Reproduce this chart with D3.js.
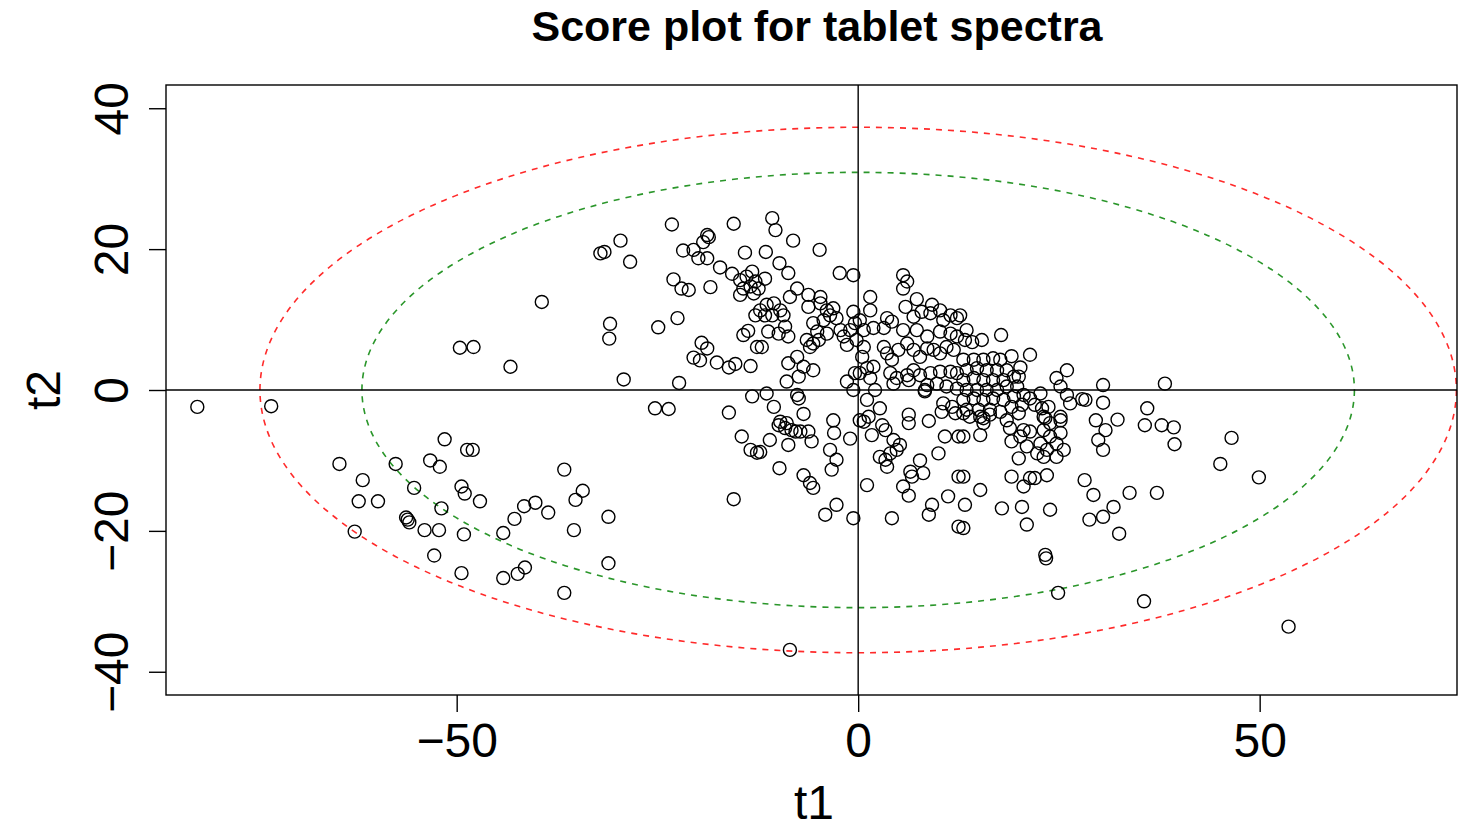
<!DOCTYPE html>
<html>
<head>
<meta charset="utf-8">
<script src="https://cdn.jsdelivr.net/npm/d3@7"></script>
<style>
  body { margin: 0; background: #fff; }
  svg { display: block; font-family: "Liberation Sans", Arial, Helvetica, sans-serif; }
</style>
</head>
<body>
<svg id="chart" width="1458" height="829"></svg>
<script>
// score values (t1, t2)
const t1Scores = [
  -82.3,-73.1,-51.5,-48.7,-48.0,-64.6,-57.6,-53.3,-52.1,-61.7,-55.3,-49.4,-49.0,-62.2,-59.8,-51.9,-56.1,-55.9,-56.3,-54.0,-52.2,-62.7,-49.1,-52.8,-49.4,
  -29.6,-32.1,-31.6,-28.4,-39.4,-30.9,-31.0,-47.9,-49.6,-43.3,-29.2,-47.1,-36.6,-34.3,-35.2,-40.2,-41.6,-38.6,-42.8,-31.1,-44.2,-35.4,-41.5,-42.4,-44.2,-31.1,-36.6,
  -23.2,-15.5,-18.8,-18.6,-19.3,-21.8,-20.5,-19.9,-18.8,-14.1,-17.2,-15.7,-14.7,-13.9,-13.2,-12.8,-14.3,-13.4,-14.7,-13.0,-12.4,-23.0,-22.0,-21.1,-18.4,-12.8,
  -24.9,-22.5,-14.3,-13.7,-12.6,-19.5,-18.8,-20.5,-19.7,-17.6,-16.1,-15.3,-13.4,-22.3,-13.2,-25.3,-23.6,-16.1,
  -14.5,-13.4,-12.6,-15.5,
  -10.7,-10.3,-8.1,-4.8,-11.5,-9.8,-8.7,-2.3,-0.6,-11.6,-7.6,-8.5,-6.2,-4.7,-11.4,-10.5,-9.7,-11.6,-10.7,-9.3,-11.2,-9.9,-8.7,-9.1,-12.2,-6.2,-4.7,-3.9,-3.1,
  -5.6,-4.3,-3.5,-2.7,-5.1,-3.9,-2.2,-6.4,-5.6,-1.8,-1.0,-0.4,-1.4,-0.2,-0.6,-6.0,-4.9,-12.0,-7.6,-8.7,-6.8,-5.6,-7.4,-8.9,-0.4,-1.4,-0.6,-11.4,-7.6,
  -7.4,-10.5,-6.8,-9.7,-9.9,-8.9,-9.1,-8.3,-7.8,-7.2,-6.2,-3.1,-3.0,-1.0,-11.0,-8.7,-5.8,-12.2,-3.5,-2.7,-3.3,-9.8,-6.8,-6.0,-5.6,-2.7,-4.1,-0.6,0.2,
  5.6,6.1,5.6,1.5,1.5,7.3,5.9,9.2,10.2,11.5,12.3,10.6,9.0,7.9,6.9,0.2,0.7,1.9,3.6,4.2,3.2,5.6,7.3,8.6,10.2,11.5,12.3,0.7,0.5,3.2,3.6,4.2,5.0,6.1,6.9,
  7.7,8.6,9.4,10.2,11.0,11.9,1.1,1.9,1.5,0.2,4.0,4.8,6.1,6.9,7.7,9.0,10.2,11.5,12.3,4.4,6.3,8.6,9.8,11.0,2.1,8.3,12.3,
  1.1,2.7,1.3,0.7,8.3,10.6,11.7,10.4,12.1,6.3,6.3,8.8,3.0,3.4,1.7,4.4,5.2,4.8,4.0,2.7,3.4,3.6,10.8,12.5,10.0,7.7,6.5,8.1,6.7,1.1,5.6,6.3,11.2,9.2,8.8,4.2,12.5,12.5,
  12.7,13.5,13.3,14.2,15.4,17.8,19.1,21.4,13.1,14.4,15.6,16.8,17.7,13.5,14.8,16.0,17.3,18.5,13.1,14.4,15.6,16.8,18.1,19.4,13.5,14.8,16.0,17.3,18.5,19.8,
  13.1,14.4,15.6,16.8,18.1,19.4,20.6,13.5,15.0,16.4,17.7,19.1,20.4,13.9,15.6,20.2,20.0,26.0,24.7,25.2,26.0,22.7,23.7,22.9,22.0,26.4,25.2,23.1,21.4,
  13.1,15.2,15.6,16.4,18.5,18.9,20.0,20.6,21.4,20.2,19.1,21.0,20.0,13.1,15.2,23.1,23.9,25.2,22.7,23.5,24.7,25.6,23.1,24.7,22.3,23.9,25.2,23.3,
  13.1,15.2,19.1,20.6,21.4,22.0,23.5,13.3,17.9,20.4,23.9,13.1,21.0,23.3,23.4,24.9,
  30.5,38.2,27.9,28.3,30.5,36.0,29.6,32.3,30.8,35.7,37.8,39.3,29.9,30.5,39.4,46.5,45.1,49.9,28.2,29.3,33.8,37.2,31.8,28.8,30.5,32.5,35.6,53.6,
  -8.5
];
const t2Scores = [
  -2.4,-2.3,-7.0,-8.5,-8.5,-10.5,-10.5,-10.0,-10.9,-12.8,-13.9,-13.7,-14.7,-15.8,-15.8,-16.8,-18.4,-18.8,-18.1,-19.9,-19.9,-20.1,-20.5,-23.5,-26.0,
  21.2,19.4,19.6,18.2,12.5,9.4,7.3,6.1,6.0,3.3,1.5,-15.8,-11.3,-14.3,-15.6,-16.0,-16.5,-17.4,-18.3,-18.0,-20.3,-19.9,-25.2,-26.1,-26.7,-24.6,-28.8,
  23.5,23.6,22.0,21.7,21.0,19.8,19.9,18.7,18.7,19.5,17.4,16.5,15.6,16.1,16.8,15.4,14.4,14.7,13.5,13.7,14.4,15.7,14.4,14.2,14.6,10.6,
  8.9,10.2,7.8,8.4,6.1,6.7,5.9,4.6,4.2,3.9,3.2,3.7,3.4,1.0,-0.9,-2.6,-2.7,-3.2,
  -6.6,-8.5,-8.9,-15.5,
  24.4,22.7,21.2,19.9,19.6,18.0,16.6,16.6,16.3,15.8,14.4,13.2,13.5,13.2,12.1,12.3,11.3,10.6,10.6,10.6,8.3,8.0,7.6,9.0,11.3,11.8,12.3,11.3,11.6,
  9.5,9.9,10.6,10.2,8.3,8.0,8.5,7.1,6.6,7.6,8.5,9.5,6.4,7.1,11.1,6.1,7.1,6.1,4.7,3.8,3.3,2.8,1.9,1.2,2.4,1.2,0.0,-0.5,-0.7,
  -1.2,-2.4,-3.4,-4.5,-5.0,-4.7,-5.4,-5.7,-5.9,-5.9,-5.9,-4.3,-6.1,-6.9,-7.1,-7.8,-7.3,-8.8,-8.5,-9.9,-11.3,-11.1,-12.1,-13.2,-13.9,-16.3,-17.7,-18.2,-4.3,
  16.3,15.4,14.4,13.2,11.3,12.9,11.8,12.1,11.3,10.6,10.2,9.9,10.9,11.1,10.4,9.9,8.5,8.8,10.2,9.7,8.8,8.5,8.5,7.6,8.3,8.0,7.6,6.1,4.7,6.1,5.2,4.3,5.7,6.6,5.7,
  4.7,5.9,5.7,5.2,6.1,5.7,3.1,3.3,1.7,2.4,2.4,1.7,2.1,2.8,2.1,2.4,2.6,2.6,2.4,0.9,1.4,0.7,0.9,0.5,0.0,0.0,0.2,
  -1.4,-2.6,-3.8,-4.5,-0.2,-1.9,-2.4,-3.1,-3.3,-3.5,-4.7,-4.4,-5.0,-5.7,-6.4,-7.1,-7.8,-8.5,-9.0,-9.5,-9.9,-10.9,-6.6,-6.6,-9.0,-10.0,-11.6,-11.8,-12.3,-13.5,-13.7,-15.0,-15.1,-16.3,-17.7,-18.2,-12.3,-19.4,
  10.6,8.5,7.1,6.8,7.1,7.8,4.8,5.0,4.3,4.3,4.3,4.5,4.3,2.8,3.1,2.8,2.8,2.8,1.4,1.7,1.4,1.4,1.4,1.9,0.0,0.0,0.0,0.0,0.5,0.5,
  -1.4,-1.2,-1.4,-1.2,-1.4,-0.9,-0.7,-2.8,-2.8,-2.8,-3.1,-2.4,-2.1,-3.8,-4.0,3.2,1.9,2.8,1.7,0.5,-0.7,-0.5,-2.4,-2.6,-2.1,-1.9,-3.8,-3.8,-1.2,
  -3.3,-3.8,-4.7,-3.5,-4.3,-5.4,-3.3,-5.7,-5.9,-6.6,-7.3,-8.0,-9.7,-6.6,-6.4,-5.7,-6.6,-6.1,-7.6,-8.5,-7.6,-8.5,-9.5,-9.5,-9.0,-4.7,-4.3,-4.0,
  -12.3,-14.2,-12.3,-13.7,-12.5,-12.5,-12.1,-16.3,-16.8,-16.6,-17.0,-19.6,-19.1,-23.4,-23.9,-28.8,
  0.7,0.9,-1.3,-1.4,-1.8,-2.6,-4.3,-4.2,-5.7,-5.0,-5.0,-5.3,-7.1,-8.5,-7.7,-6.8,-10.5,-12.4,-12.8,-14.9,-14.6,-14.6,-16.6,-18.4,-18.0,-20.4,-30.0,-33.6,
  -36.9
];

// confidence ellipses: semi-axes along t1 and t2
const ellipseNames = ['99%', '95%'];
const ellipseT1 = [74.5, 61.8];
const ellipseT2 = [37.3, 30.9];
const ellipseColors = ['#ff2a2a', '#2a962a'];

const xTicks = [-50, 0, 50];
const yTicks = [-40, -20, 0, 20, 40];

const svg = d3.select('#chart');

const plotLeft = 166, plotRight = 1457, plotTop = 85, plotBottom = 695;

const x = d3.scaleLinear().domain([-86.2, 74.7]).range([plotLeft, 1458]);
const y = d3.scaleLinear().domain([-43.3, 43.3]).range([plotBottom, plotTop]);

const points = t1Scores.map((d, i) => ({ t1: d, t2: t2Scores[i] }));

/* title */
svg.append('text')
  .attr('x', 817).attr('y', 41)
  .attr('text-anchor', 'middle')
  .style('font-size', '43px').style('font-weight', 'bold')
  .text('Score plot for tablet spectra');

/* ellipses */
svg.selectAll('.ell')
  .data(ellipseNames)
  .join('ellipse')
  .classed('ell', true)
  .attr('cx', x(0)).attr('cy', y(0))
  .attr('rx', (d, i) => x(ellipseT1[i]) - x(0))
  .attr('ry', (d, i) => y(0) - y(ellipseT2[i]))
  .attr('fill', 'none')
  .attr('stroke', (d, i) => ellipseColors[i])
  .attr('stroke-width', 1.6)
  .attr('stroke-dasharray', '6,6');

/* zero lines */
svg.append('line')
  .attr('x1', x(0)).attr('x2', x(0)).attr('y1', plotTop).attr('y2', plotBottom)
  .attr('stroke', '#000').attr('stroke-width', 1.4);
svg.append('line')
  .attr('x1', plotLeft).attr('x2', plotRight).attr('y1', y(0)).attr('y2', y(0))
  .attr('stroke', '#000').attr('stroke-width', 1.4);

/* points */
svg.append('g')
  .selectAll('circle')
  .data(points)
  .join('circle')
  .attr('cx', d => x(d.t1))
  .attr('cy', d => y(d.t2))
  .attr('r', 6.5)
  .attr('fill', 'none')
  .attr('stroke', '#000')
  .attr('stroke-width', 1.4);

/* box */
svg.append('rect')
  .attr('x', plotLeft).attr('y', plotTop)
  .attr('width', plotRight - plotLeft).attr('height', plotBottom - plotTop)
  .attr('fill', 'none').attr('stroke', '#000').attr('stroke-width', 1.4);

/* x axis */
const gx = svg.append('g')
  .attr('transform', `translate(0,${plotBottom})`)
  .call(d3.axisBottom(x).tickValues(xTicks).tickSize(17).tickSizeOuter(0));
gx.select('.domain').remove();
gx.selectAll('line').attr('stroke-width', 1.4);
gx.selectAll('text').style('font-size', '48px').attr('fill', '#000')
  .attr('dy', null).attr('y', 62);

/* y axis */
const gy = svg.append('g')
  .attr('transform', `translate(${plotLeft},0)`)
  .call(d3.axisLeft(y).tickValues(yTicks).tickSize(17).tickSizeOuter(0));
gy.select('.domain').remove();
gy.selectAll('line').attr('stroke-width', 1.4);
gy.selectAll('text')
  .style('font-size', '48px').attr('fill', '#000')
  .attr('x', null).attr('dy', null)
  .attr('text-anchor', 'middle')
  .attr('transform', 'translate(-38,0) rotate(-90)');

/* axis titles */
svg.append('text')
  .attr('x', 814).attr('y', 819)
  .attr('text-anchor', 'middle')
  .style('font-size', '48px')
  .text('t1');
svg.append('text')
  .attr('transform', `translate(60,${y(0)}) rotate(-90)`)
  .attr('text-anchor', 'middle')
  .style('font-size', '48px')
  .text('t2');
</script>
</body>
</html>
